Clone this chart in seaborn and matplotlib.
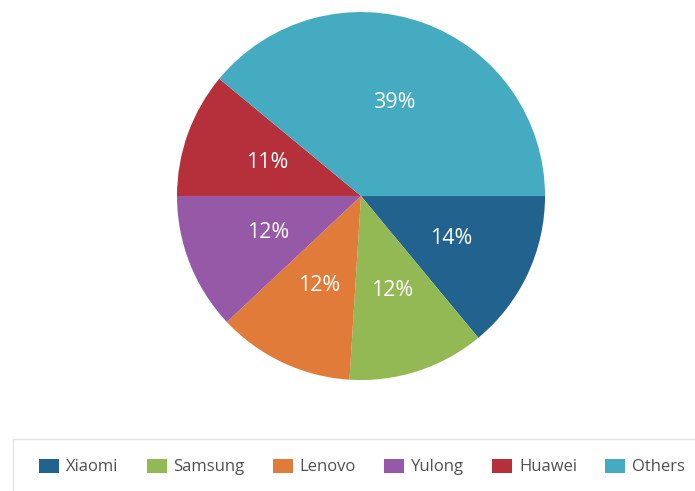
import matplotlib
matplotlib.use("Agg")
import matplotlib.pyplot as plt
import seaborn as sns
from matplotlib.patches import Rectangle

brands = ["Xiaomi", "Samsung", "Lenovo", "Yulong", "Huawei", "Others"]
shares = [14, 12, 12, 12, 11, 39]
colors = ["#22628f", "#93b954", "#e07b39", "#9559a8", "#b5303b", "#45abc1"]

sns.set_theme(style="white")
plt.rcParams["font.family"] = ["Open Sans", "DejaVu Sans"]

fig = plt.figure(figsize=(6.95, 4.91), dpi=100)
ax = fig.add_axes([0.2547, 0.226, 0.5295, 0.7495])

wedges, texts, autotexts = ax.pie(
    shares, colors=sns.color_palette(colors), startangle=0, counterclock=False,
    autopct="%d%%", pctdistance=0.54, radius=1,
    wedgeprops=dict(linewidth=0),
    textprops=dict(color="white", fontsize=15.5))
ax.set_xlim(-1, 1)
ax.set_ylim(-1, 1)
ax.set_aspect("equal")
ax.axis("off")

# legend box
fig.patches.append(Rectangle((13 / 695, -0.05), 1.0, 1 - 439 / 491 + 0.05,
                             transform=fig.transFigure, fill=False,
                             edgecolor="#e3e3e3", linewidth=1))

fig.legend(wedges, brands, loc="center", bbox_to_anchor=(362 / 695, 1 - 467 / 491),
           ncol=6, frameon=False, fontsize=12, handlelength=1.2, handleheight=0.9,
           handletextpad=0.4, columnspacing=1.7, labelcolor="#505050")

fig.savefig("out.png", dpi=100)
